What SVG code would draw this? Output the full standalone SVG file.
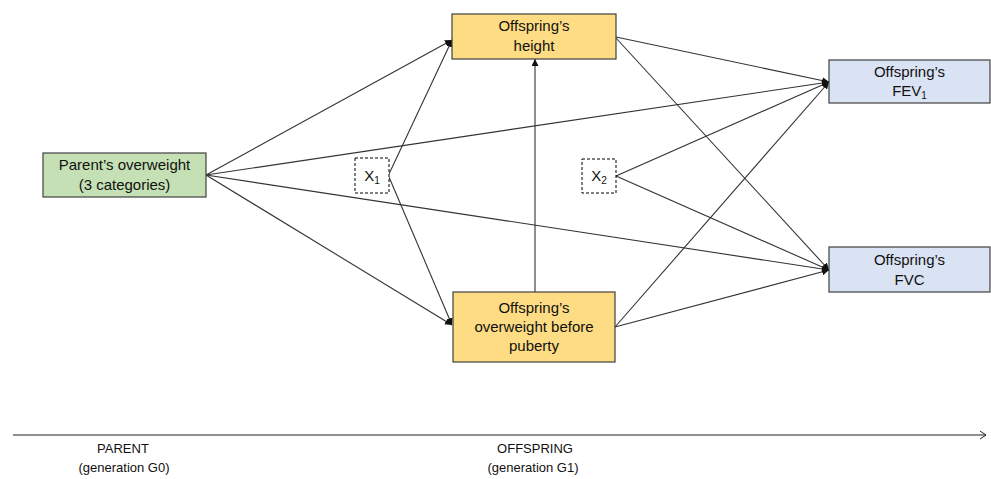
<svg xmlns="http://www.w3.org/2000/svg" width="991" height="479" viewBox="0 0 991 479">
<style>
  .box{stroke:#404040;stroke-width:1.2}
  .green{fill:#c5e0b4}
  .yellow{fill:#fddc84}
  .blue{fill:#dae3f3}
  .dash{fill:#ffffff;stroke:#000;stroke-width:1;stroke-dasharray:3,2}
  text{font-family:"Liberation Sans",Arial,sans-serif;fill:#111;text-anchor:middle}
  .lbl{font-size:15px}
  .axl{font-size:13px}
  .conn line{stroke:#333;stroke-width:1.1;fill:none}
</style>
<defs>
  <marker id="ah" viewBox="0 0 10 10" refX="10" refY="5" markerWidth="7" markerHeight="7" markerUnits="userSpaceOnUse" orient="auto">
    <path d="M0,0 L10,5 L0,10 z" fill="#111"/>
  </marker>
</defs>

<g id="connectors" class="conn">
  <line x1="206" y1="175" x2="452" y2="40" marker-end="url(#ah)"/>
  <line x1="206" y1="175" x2="452" y2="325" marker-end="url(#ah)"/>
  <line x1="206" y1="175" x2="829" y2="82" marker-end="url(#ah)"/>
  <line x1="206" y1="175" x2="829" y2="270" marker-end="url(#ah)"/>
  <line x1="389" y1="174" x2="452" y2="40" marker-end="url(#ah)"/>
  <line x1="389" y1="177" x2="452" y2="325" marker-end="url(#ah)"/>
  <line x1="535" y1="292" x2="535" y2="59" marker-end="url(#ah)"/>
  <line x1="616" y1="37" x2="829" y2="82" marker-end="url(#ah)"/>
  <line x1="616" y1="38" x2="829" y2="270" marker-end="url(#ah)"/>
  <line x1="616" y1="176" x2="829" y2="82" marker-end="url(#ah)"/>
  <line x1="616" y1="176" x2="829" y2="270" marker-end="url(#ah)"/>
  <line x1="615" y1="327" x2="829" y2="82" marker-end="url(#ah)"/>
  <line x1="615" y1="327" x2="829" y2="270" marker-end="url(#ah)"/>
</g>

<g id="parent">
  <rect class="box green" x="43" y="153" width="163" height="44"/>
  <text class="lbl" x="124.5" y="170">Parent’s overweight</text>
  <text class="lbl" x="124.5" y="190">(3 categories)</text>
</g>

<g id="x1">
  <rect class="dash" x="355" y="158" width="34" height="35"/>
  <text class="lbl" x="372" y="181">X<tspan font-size="10" dy="3">1</tspan></text>
</g>

<g id="height">
  <rect class="box yellow" x="452" y="14" width="164" height="45"/>
  <text class="lbl" x="534" y="31">Offspring’s</text>
  <text class="lbl" x="534" y="51">height</text>
</g>

<g id="overweight">
  <rect class="box yellow" x="453" y="292" width="162" height="70"/>
  <text class="lbl" x="534" y="313">Offspring’s</text>
  <text class="lbl" x="534" y="332">overweight before</text>
  <text class="lbl" x="534" y="351">puberty</text>
</g>

<g id="x2">
  <rect class="dash" x="582" y="159" width="34" height="34"/>
  <text class="lbl" x="599" y="181">X<tspan font-size="10" dy="3">2</tspan></text>
</g>

<g id="fev1">
  <rect class="box blue" x="829" y="60" width="161" height="43"/>
  <text class="lbl" x="909.5" y="77">Offspring’s</text>
  <text class="lbl" x="909.5" y="96">FEV<tspan font-size="10" dy="3">1</tspan></text>
</g>

<g id="fvc">
  <rect class="box blue" x="829" y="247" width="161" height="45"/>
  <text class="lbl" x="909.5" y="265">Offspring’s</text>
  <text class="lbl" x="909.5" y="285">FVC</text>
</g>

<g id="axis">
  <line x1="13" y1="435" x2="986" y2="435" stroke="#222" stroke-width="1.1"/>
  <polyline points="980,431 986,435 980,439" fill="none" stroke="#222" stroke-width="1"/>
  <text class="axl" x="123" y="453">PARENT</text>
  <text class="axl" x="124" y="472">(generation G0)</text>
  <text class="axl" x="535" y="453">OFFSPRING</text>
  <text class="axl" x="533" y="472">(generation G1)</text>
</g>
</svg>
